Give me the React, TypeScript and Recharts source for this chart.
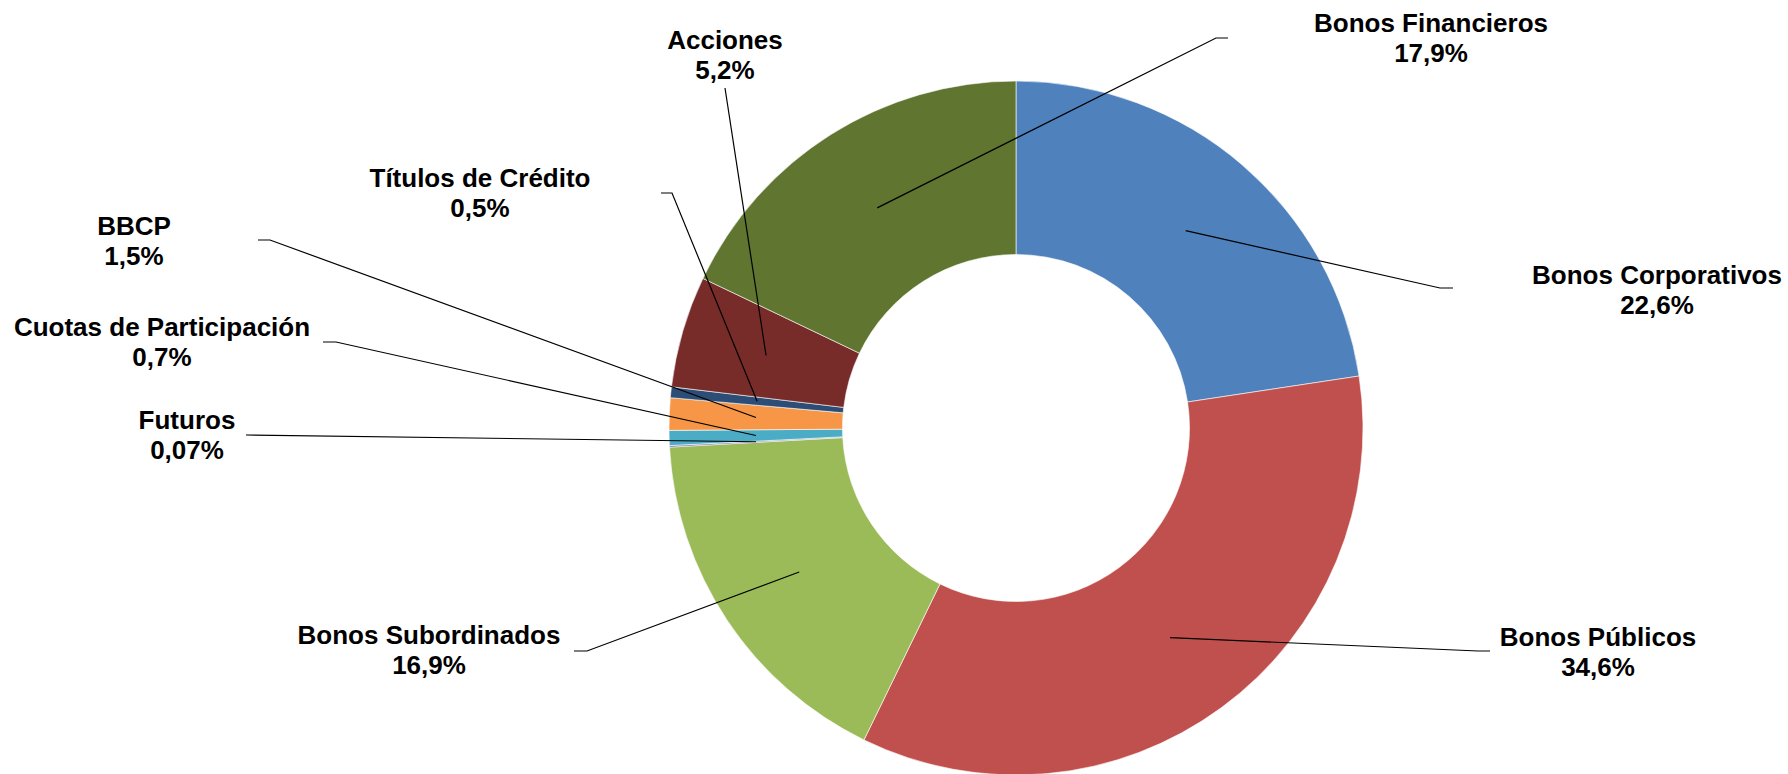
import React from "react";
import { PieChart, Pie, Cell } from "recharts";

const categories = [
  "Bonos Corporativos",
  "Bonos Públicos",
  "Bonos Subordinados",
  "Futuros",
  "Cuotas de Participación",
  "BBCP",
  "Títulos de Crédito",
  "Acciones",
  "Bonos Financieros",
];
const shares = [22.6, 34.6, 16.9, 0.07, 0.7, 1.5, 0.5, 5.2, 17.9];
const shareLabels = ["22,6%", "34,6%", "16,9%", "0,07%", "0,7%", "1,5%", "0,5%", "5,2%", "17,9%"];
const colors = ["#4F81BD", "#C0504D", "#9BBB59", "#8064A2", "#4BACC6", "#F79646", "#2C4D75", "#772C2A", "#5F7530"];

// label text anchors and leader elbows (layout only)
const labelLayout: { tx: number; ty: number; leader: number[][] }[] = [
  { tx: 1657, ty: 284, leader: [[1453, 288], [1440, 288]] },
  { tx: 1598, ty: 646, leader: [[1490, 651], [1478, 651]] },
  { tx: 429, ty: 644, leader: [[574, 651], [587, 651]] },
  { tx: 187, ty: 429, leader: [[246, 435]] },
  { tx: 162, ty: 336, leader: [[323, 342], [336, 342]] },
  { tx: 134, ty: 235, leader: [[258, 240], [270, 240]] },
  { tx: 480, ty: 187, leader: [[661, 193], [672, 193]] },
  { tx: 725, ty: 49, leader: [[725, 88]] },
  { tx: 1431, ty: 32, leader: [[1228, 38], [1216, 38]] },
];

const data = categories.map((name, i) => ({ name, value: shares[i] }));

const W = 1788;
const H = 774;
const CX = 1016;
const CY = 428;
const OUTER = 347;
const INNER = 173.5;
const RAD = Math.PI / 180;
const FONT = "'Liberation Sans', Arial, Helvetica, sans-serif";

const renderLabel = (props: any) => {
  const { index, midAngle } = props;
  const cx = typeof props.cx === "number" ? props.cx : CX;
  const cy = typeof props.cy === "number" ? props.cy : CY;
  const ir = typeof props.innerRadius === "number" ? props.innerRadius : INNER;
  const or = typeof props.outerRadius === "number" ? props.outerRadius : OUTER;
  const r = (ir + or) / 2;
  const px = cx + r * Math.cos(-midAngle * RAD);
  const py = cy + r * Math.sin(-midAngle * RAD);
  const lay = labelLayout[index];
  const pts = [...lay.leader, [px, py]];
  const d = pts.map((p, k) => `${k === 0 ? "M" : "L"}${p[0]},${p[1]}`).join(" ");
  return (
    <g key={`lbl-${index}`}>
      <path d={d} stroke="#000" strokeWidth={1.2} fill="none" />
      <text
        x={lay.tx}
        y={lay.ty}
        textAnchor="middle"
        fontFamily={FONT}
        fontWeight="bold"
        fontSize={26}
        fill="#000"
      >
        {categories[index]}
      </text>
      <text
        x={lay.tx}
        y={lay.ty + 30}
        textAnchor="middle"
        fontFamily={FONT}
        fontWeight="bold"
        fontSize={26}
        fill="#000"
      >
        {shareLabels[index]}
      </text>
    </g>
  );
};

export default function App() {
  return (
    <div style={{ position: "absolute", left: 0, top: 0, width: W, height: H, background: "#fff" }}>
      <PieChart width={W} height={H} margin={{ top: 0, right: 0, bottom: 0, left: 0 }}>
        <Pie
          data={data}
          dataKey="value"
          nameKey="name"
          cx={CX}
          cy={CY}
          innerRadius={INNER}
          outerRadius={OUTER}
          startAngle={90}
          endAngle={-270}
          stroke="#ffffff"
          strokeWidth={0.6}
          label={renderLabel}
          labelLine={false}
          isAnimationActive={false}
        >
          {data.map((d, i) => (
            <Cell key={d.name} fill={colors[i]} />
          ))}
        </Pie>
      </PieChart>
    </div>
  );
}
